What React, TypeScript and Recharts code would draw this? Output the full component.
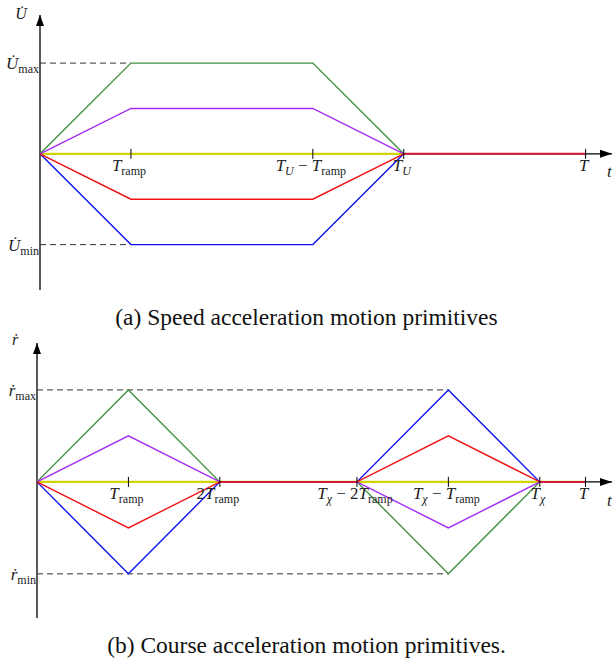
import React from "react";
import { LineChart, Line, XAxis, YAxis, ReferenceLine, ReferenceDot } from "recharts";

// time in units of T_ramp, value in units of the max
const speedTimes = [0, 1, 3, 4];
const speedGreen = [0, 1, 1, 0];
const speedPurple = [0, 0.5, 0.5, 0];
const speedYellow = [0, 0, 0, 0];
const speedRed = [0, -0.5, -0.5, 0];
const speedBlue = [0, -1, -1, 0];
const speedTailTimes = [4, 6];
const speedTail = [0, 0];

const courseTimes = [0, 1, 2, 3.5, 4.5, 5.5, 6];
const courseGreen = [0, 1, 0, 0, -1, 0, 0];
const coursePurple = [0, 0.5, 0, 0, -0.5, 0, 0];
const courseYellow = [0, 0, 0, 0, 0, 0, 0];
const courseRed = [0, -0.5, 0, 0, 0.5, 0, 0];
const courseBlue = [0, -1, 0, 0, 1, 0, 0];
const courseTailTimes = [2, 3.5, 4.5, 5.5, 6];
const courseTail = [0, 0, null, 0, 0];

// tick labels: [text, style] with i = italic, s = subscript, si = italic subscript, r = roman
type Part = [string, string];
const speedTicks = [1, 3, 4, 6];
const speedTickLabels: Part[][] = [
  [["T", "i"], ["ramp", "s"]],
  [["T", "i"], ["U", "si"], [" − ", "r"], ["T", "i"], ["ramp", "s"]],
  [["T", "i"], ["U", "si"]],
  [["T", "i"]],
];
const courseTicks = [1, 2, 3.5, 4.5, 5.5, 6];
const courseTickLabels: Part[][] = [
  [["T", "i"], ["ramp", "s"]],
  [["2", "r"], ["T", "i"], ["ramp", "s"]],
  [["T", "i"], ["χ", "si"], [" − 2", "r"], ["T", "i"], ["ramp", "s"]],
  [["T", "i"], ["χ", "si"], [" − ", "r"], ["T", "i"], ["ramp", "s"]],
  [["T", "i"], ["χ", "si"]],
  [["T", "i"]],
];
const yTicks = [1, -1];
const speedYLabels: Part[][] = [
  [["U̇", "i"], ["max", "s"]],
  [["U̇", "i"], ["min", "s"]],
];
const courseYLabels: Part[][] = [
  [["ṙ", "i"], ["max", "s"]],
  [["ṙ", "i"], ["min", "s"]],
];

const GREEN = "#3f8f3f";
const PURPLE = "#a52cf5";
const YELLOW = "#d2d200";
const RED = "#f01010";
const BLUE = "#1010f0";
const CRIMSON = "#d01a3c";
const FONT = "'Liberation Serif', serif";

const toData = (ts: number[], vs: (number | null)[]) => ts.map((t, i) => ({ t, v: vs[i] }));

function MathText({ x, y, parts, anchor }: { x: number; y: number; parts: Part[]; anchor: string }) {
  let sub = false;
  return (
    <text x={x} y={y} textAnchor={anchor} fontFamily={FONT} fontSize={17} fill="#222">
      {parts.map(([txt, st], i) => {
        const isSub = st === "s" || st === "si";
        const dy = isSub && !sub ? 4 : !isSub && sub ? -4 : 0;
        sub = isSub;
        return (
          <tspan
            key={i}
            dy={dy}
            fontSize={isSub ? 12 : 17}
            fontStyle={st === "i" || st === "si" ? "italic" : "normal"}
            style={{ whiteSpace: "pre" }}
          >
            {txt}
          </tspan>
        );
      })}
    </text>
  );
}

const upArrow = (p: any) => (
  <path d={`M${p.cx},${p.cy} L${p.cx - 4},${p.cy + 11} L${p.cx + 4},${p.cy + 11} Z`} fill="#000" />
);
const rightArrow = (p: any) => (
  <path d={`M${p.cx},${p.cy} L${p.cx - 12},${p.cy - 4} L${p.cx - 12},${p.cy + 4} Z`} fill="#000" />
);

function Panel({
  series,
  tail,
  ticks,
  tickLabels,
  yLabels,
  dashTo,
  yMin,
  yMax,
  margin,
}: any) {
  const xMax = 6.29;
  return (
    <LineChart width={613} height={300} margin={margin}>
      <XAxis type="number" dataKey="t" domain={[0, xMax]} hide allowDuplicatedCategory={false} />
      <YAxis type="number" domain={[yMin, yMax]} hide />
      <ReferenceLine segment={[{ x: 0, y: yMin }, { x: 0, y: yMax }]} stroke="#000" strokeWidth={1.3} />
      <ReferenceLine segment={[{ x: 0, y: 0 }, { x: xMax, y: 0 }]} stroke="#000" strokeWidth={1.3} />
      {yTicks.map((v) => (
        <ReferenceLine
          key={"d" + v}
          segment={[{ x: 0, y: v }, { x: dashTo, y: v }]}
          stroke="#333"
          strokeWidth={1}
          strokeDasharray="6 4"
        />
      ))}
      {series.map((s: any) => (
        <Line
          key={s.name}
          data={s.data}
          dataKey="v"
          type="linear"
          stroke={s.color}
          strokeWidth={s.width}
          dot={false}
          isAnimationActive={false}
        />
      ))}
      <Line
        data={tail}
        dataKey="v"
        type="linear"
        stroke={CRIMSON}
        strokeWidth={2}
        dot={false}
        connectNulls={false}
        isAnimationActive={false}
      />
      <ReferenceDot x={0} y={yMax} r={0} shape={upArrow} ifOverflow="visible" />
      <ReferenceDot x={xMax} y={0} r={0} shape={rightArrow} ifOverflow="visible" />
      {ticks.map((t: number, i: number) => (
        <ReferenceDot
          key={"t" + t}
          x={t}
          y={0}
          r={0}
          ifOverflow="visible"
          shape={(p: any) => (
            <g>
              <line x1={p.cx} x2={p.cx} y1={p.cy - 5} y2={p.cy + 5} stroke="#000" strokeWidth={1} />
              <MathText x={p.cx - 2} y={p.cy + 17} parts={tickLabels[i]} anchor="middle" />
            </g>
          )}
        />
      ))}
      {yTicks.map((v, i) => (
        <ReferenceDot
          key={"y" + v}
          x={0}
          y={v}
          r={0}
          ifOverflow="visible"
          shape={(p: any) => <MathText x={p.cx - 1} y={p.cy + 6} parts={yLabels[i]} anchor="end" />}
        />
      ))}
    </LineChart>
  );
}

export default function App() {
  const speedSeries = [
    { name: "yellow", data: toData(speedTimes, speedYellow), color: YELLOW, width: 2.2 },
    { name: "green", data: toData(speedTimes, speedGreen), color: GREEN, width: 1.4 },
    { name: "purple", data: toData(speedTimes, speedPurple), color: PURPLE, width: 1.4 },
    { name: "blue", data: toData(speedTimes, speedBlue), color: BLUE, width: 1.4 },
    { name: "red", data: toData(speedTimes, speedRed), color: RED, width: 1.4 },
  ];
  const courseSeries = [
    { name: "yellow", data: toData(courseTimes, courseYellow), color: YELLOW, width: 2.2 },
    { name: "green", data: toData(courseTimes, courseGreen), color: GREEN, width: 1.4 },
    { name: "purple", data: toData(courseTimes, coursePurple), color: PURPLE, width: 1.4 },
    { name: "blue", data: toData(courseTimes, courseBlue), color: BLUE, width: 1.4 },
    { name: "red", data: toData(courseTimes, courseRed), color: RED, width: 1.4 },
  ];
  const caption: React.CSSProperties = {
    position: "absolute",
    left: 0,
    width: 613,
    textAlign: "center",
    fontFamily: FONT,
    fontSize: 23.5,
    lineHeight: "26px",
    color: "#111",
  };
  return (
    <div style={{ position: "absolute", left: 0, top: 0, width: 613, height: 663, background: "#fff", overflow: "hidden" }}>
      <div style={{ position: "absolute", left: 0, top: 0 }}>
        <Panel
          series={speedSeries}
          tail={toData(speedTailTimes, speedTail)}
          ticks={speedTicks}
          tickLabels={speedTickLabels}
          yLabels={speedYLabels}
          dashTo={1}
          yMin={-1.5}
          yMax={1.53}
          margin={{ top: 15, right: 1, left: 40, bottom: 10 }}
        />
        <svg style={{ position: "absolute", left: 0, top: 0 }} width={613} height={300} pointerEvents="none">
          <text x={21} y={19} textAnchor="middle" fontFamily={FONT} fontSize={16} fontStyle="italic" fill="#222">U̇</text>
          <text x={607} y={177} fontFamily={FONT} fontSize={17} fontStyle="italic" fill="#222">t</text>
        </svg>
      </div>
      <div style={{ ...caption, top: 304 }}>(a) Speed acceleration motion primitives</div>
      <div style={{ position: "absolute", left: 0, top: 330 }}>
        <Panel
          series={courseSeries}
          tail={toData(courseTailTimes, courseTail)}
          ticks={courseTicks}
          tickLabels={courseTickLabels}
          yLabels={courseYLabels}
          dashTo={4.5}
          yMin={-1.48}
          yMax={1.51}
          margin={{ top: 13, right: 1, left: 37, bottom: 12 }}
        />
        <svg style={{ position: "absolute", left: 0, top: 0 }} width={613} height={300} pointerEvents="none">
          <text x={15} y={15} textAnchor="middle" fontFamily={FONT} fontSize={16} fontStyle="italic" fill="#222">ṙ</text>
          <text x={607} y={176} fontFamily={FONT} fontSize={17} fontStyle="italic" fill="#222">t</text>
        </svg>
      </div>
      <div style={{ ...caption, top: 632 }}>(b) Course acceleration motion primitives.</div>
    </div>
  );
}
